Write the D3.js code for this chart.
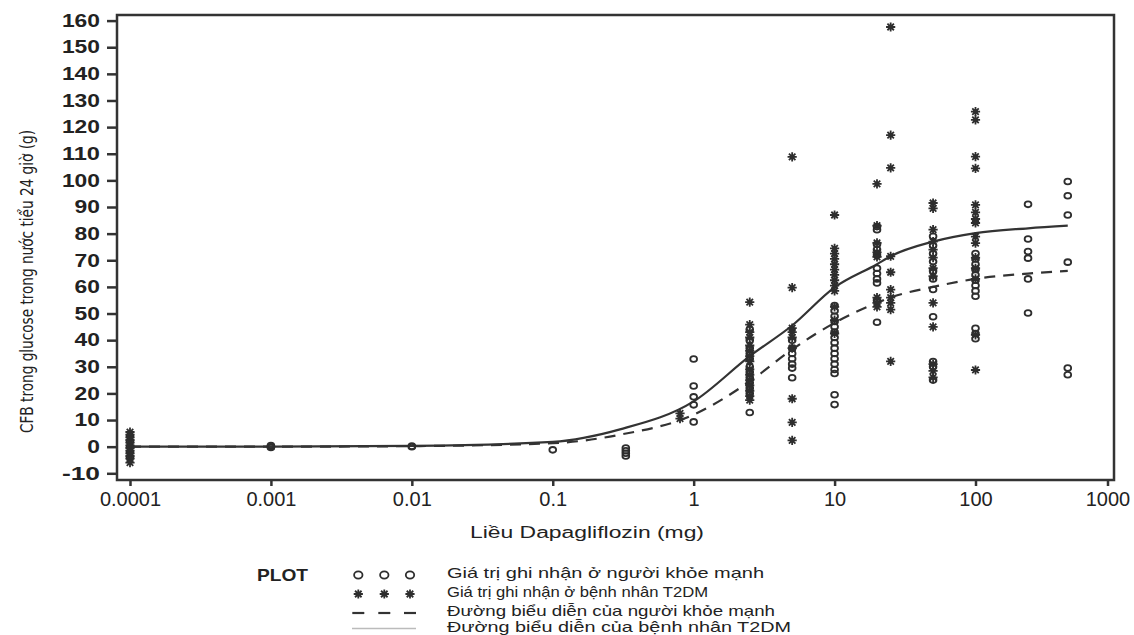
<!DOCTYPE html>
<html>
<head>
<meta charset="utf-8">
<script src="https://cdn.jsdelivr.net/npm/d3@7"></script>
<style>
  body { margin: 0; background: #fff; }
  svg { display: block; }
  text { font-family: "Liberation Sans", Arial, sans-serif; fill: #222; }
</style>
</head>
<body>
<div id="chart"></div>
<script>
// ticks
const doseTicks = [0.0001, 0.001, 0.01, 0.1, 1, 10, 100, 1000];
const doseTickLabels = ['0.0001', '0.001', '0.01', '0.1', '1', '10', '100', '1000'];
const cfbTicks = [-10, 0, 10, 20, 30, 40, 50, 60, 70, 80, 90, 100, 110, 120, 130, 140, 150, 160];

// người khỏe mạnh (vòng tròn)
const healthyDoses = [0.0001, 0.001, 0.01, 0.1, 0.33, 1, 2.5, 5, 10, 20, 50, 100, 250, 500];
const healthyValues = [
  [4, 2, 0, -2, -4],
  [0.4, 0, -0.3],
  [0.2, 0],
  [-1.2],
  [-0.5, -1.5, -2.5, -3.5],
  [32.9, 22.8, 18.7, 15.7, 9.3],
  [44, 40, 37, 35, 33, 30, 28, 26, 24, 22, 20, 12.8],
  [40, 37, 35, 33, 31, 29.5, 25.9],
  [53, 51, 49, 47, 45, 43, 41, 39, 37, 35, 33, 31, 29, 27.5, 19.5, 15.8],
  [82.7, 81.5, 76, 74, 72, 67, 65, 63, 61.5, 55, 46.7],
  [79, 75.5, 72.5, 69.5, 66, 63, 59, 48.8, 32, 30, 25],
  [72.5, 70.5, 68.5, 66.5, 64.5, 62.5, 60.5, 58.5, 56.5, 44.5, 42.5, 40.5],
  [91, 78, 73.3, 70.8, 63, 50.2],
  [99.6, 94.2, 87, 69.3, 29.5, 27]
];

// bệnh nhân T2DM (dấu sao)
const t2dmDoses = [0.0001, 0.8, 2.5, 5, 10, 20, 25, 50, 100];
const t2dmValues = [
  [5.5, 4.5, 3.5, 2.5, 1.5, 0.5, -0.5, -1.5, -2.5, -3.5, -4.5, -6],
  [12.5, 10.5],
  [54.3, 45.8, 43, 41, 38, 36, 34, 32, 29, 27, 25, 23, 21, 19, 17.5],
  [108.8, 59.7, 44.5, 43, 41, 37, 18, 9.1, 2.4],
  [87, 74.5, 72.5, 70.5, 68.5, 66.5, 64.5, 62.5, 60.5, 58.5, 52.5, 47.5, 42.5],
  [98.7, 83, 76.5, 73, 71.3, 56, 54, 52.5],
  [157.6, 117, 104.7, 71.5, 65.5, 59, 56, 54, 51.5, 32],
  [91.5, 89.5, 81.5, 77, 74, 71, 67, 64, 54, 45, 31, 28.5, 26],
  [125.8, 122.7, 108.9, 104.5, 90.8, 88, 85.5, 84, 78.9, 76.4, 71, 67, 63, 42, 28.8]
];

// đường biểu diễn
const curveDoses = [0.0001, 0.001, 0.01, 0.1, 0.3, 1, 2.5, 5, 10, 20, 25, 50, 100, 250, 500];
const t2dmCurve = [0, 0, 0.3, 1.8, 6.5, 17, 34, 45.5, 59.8, 68.5, 71.5, 77, 80.2, 82, 83];
const healthyCurve = [0, 0, 0.2, 1.3, 4.5, 12, 24.5, 36.5, 46.5, 54, 56, 60, 63, 65, 66];

const legendLabels = [
  'Giá trị ghi nhận ở người khỏe mạnh',
  'Giá trị ghi nhận ở bệnh nhân T2DM',
  'Đường biểu diễn của người khỏe mạnh',
  'Đường biểu diễn của bệnh nhân T2DM'
];

const W = 1134, H = 635;
const ink = '#333';
const markInk = '#2e2e2e';

const svg = d3.select('#chart').append('svg').attr('width', W).attr('height', H);

const x = d3.scaleLog().domain([0.0001, 100, 1000]).range([130, 975.5, 1107.5]);
const y = d3.scaleLinear().domain([-10, 160]).range([473.3, 20.6]);

const plot = { left: 117, right: 1114, top: 15, bottom: 480 };

// axes
const xAxis = svg.append('g')
  .attr('transform', `translate(0,${plot.bottom})`)
  .call(d3.axisBottom(x).tickValues(doseTicks)
    .tickFormat((d, i) => doseTickLabels[i]).tickSize(6).tickPadding(6));
xAxis.select('.domain').remove();
xAxis.selectAll('line').attr('stroke', ink).attr('stroke-width', 2.5);
xAxis.selectAll('text').attr('font-size', 20).attr('fill', '#222')
  .style('font-family', '"Liberation Sans", Arial, sans-serif');

const yAxis = svg.append('g')
  .attr('transform', `translate(${plot.left},0)`)
  .call(d3.axisLeft(y).tickValues(cfbTicks).tickSize(10).tickPadding(7)
    .tickFormat(d => String(d)));
yAxis.select('.domain').remove();
yAxis.selectAll('line').attr('stroke', ink).attr('stroke-width', 2.5);
yAxis.selectAll('text')
  .attr('font-size', 18).attr('font-weight', 'bold').attr('fill', '#222')
  .style('font-family', '"Liberation Sans", Arial, sans-serif')
  .attr('textLength', d => String(d).length * 12.7)
  .attr('lengthAdjust', 'spacingAndGlyphs');

// frame
svg.append('rect')
  .attr('x', plot.left).attr('y', plot.top)
  .attr('width', plot.right - plot.left).attr('height', plot.bottom - plot.top)
  .attr('fill', 'none').attr('stroke', ink).attr('stroke-width', 2.5);

// markers
function circleMark(g, cx, cy, r) {
  g.append('ellipse').attr('cx', cx).attr('cy', cy)
    .attr('rx', r).attr('ry', r * 0.85)
    .attr('fill', 'none').attr('stroke', markInk).attr('stroke-width', 1.8);
}
function starMark(g, cx, cy, r) {
  const d = r * Math.SQRT1_2;
  g.append('path')
    .attr('d', `M${cx - r},${cy}H${cx + r}M${cx},${cy - r}V${cy + r}` +
      `M${cx - d},${cy - d}L${cx + d},${cy + d}M${cx - d},${cy + d}L${cx + d},${cy - d}`)
    .attr('stroke', markInk).attr('stroke-width', 1.8).attr('fill', 'none');
  g.append('circle').attr('cx', cx).attr('cy', cy).attr('r', r * 0.5).attr('fill', markInk);
}

// curves
const line = d3.line().x(d => x(d[0])).y(d => y(d[1])).curve(d3.curveMonotoneX);
svg.append('path')
  .datum(curveDoses.map((d, i) => [d, healthyCurve[i]]))
  .attr('d', line).attr('fill', 'none').attr('stroke', ink)
  .attr('stroke-width', 2.2).attr('stroke-dasharray', '11,8');
svg.append('path')
  .datum(curveDoses.map((d, i) => [d, t2dmCurve[i]]))
  .attr('d', line).attr('fill', 'none').attr('stroke', ink).attr('stroke-width', 2.2);

// points
const pts = svg.append('g');
healthyDoses.forEach((dose, i) => {
  healthyValues[i].forEach(v => circleMark(pts, x(dose), y(v), 3.4));
});
t2dmDoses.forEach((dose, i) => {
  t2dmValues[i].forEach(v => starMark(pts, x(dose), y(v), 4.6));
});

// axis titles
svg.append('text')
  .attr('transform', 'translate(33,281.5) rotate(-90)')
  .attr('text-anchor', 'middle')
  .attr('font-size', 18)
  .style('font-family', '"Liberation Sans Narrow", "DejaVu Sans Condensed", sans-serif')
  .attr('textLength', 303).attr('lengthAdjust', 'spacingAndGlyphs')
  .text('CFB trong glucose trong nước tiểu 24 giờ (g)');

svg.append('text')
  .attr('x', 470).attr('y', 538)
  .attr('font-size', 16)
  .attr('textLength', 234).attr('lengthAdjust', 'spacingAndGlyphs')
  .text('Liều Dapagliflozin (mg)');

// legend
const leg = svg.append('g');
leg.append('text').attr('x', 257).attr('y', 581)
  .attr('font-size', 17).attr('font-weight', 'bold')
  .attr('textLength', 51).attr('lengthAdjust', 'spacingAndGlyphs')
  .text('PLOT');

const legX = [358.3, 384.3, 410];
const rowY = [578.3, 597, 615.5, 631.5];
const symY = [575, 594, 613, 628.5];
const rowLen = [317, 261, 328, 344];

legX.forEach(cx => circleMark(leg, cx, symY[0], 4.2));
legX.forEach(cx => starMark(leg, cx, symY[1], 4.6));
legX.forEach(cx => {
  leg.append('line').attr('x1', cx - 6).attr('x2', cx + 6)
    .attr('y1', symY[2]).attr('y2', symY[2])
    .attr('stroke', ink).attr('stroke-width', 2.2);
});
leg.append('line').attr('x1', 352).attr('x2', 416)
  .attr('y1', symY[3]).attr('y2', symY[3])
  .attr('stroke', '#bbb').attr('stroke-width', 1.5);

legendLabels.forEach((t, i) => {
  leg.append('text').attr('x', 447).attr('y', rowY[i])
    .attr('font-size', i === 3 ? 14.5 : 15)
    .attr('textLength', rowLen[i]).attr('lengthAdjust', 'spacingAndGlyphs')
    .text(t);
});
</script>
</body>
</html>
